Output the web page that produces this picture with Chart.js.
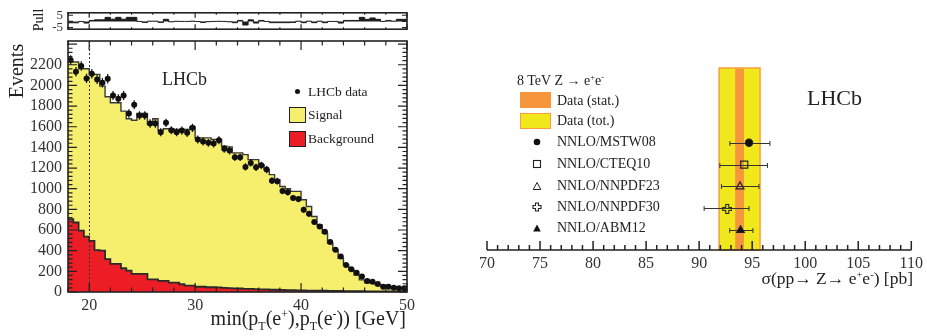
<!DOCTYPE html>
<html>
<head>
<meta charset="utf-8">
<title>LHCb Z to ee</title>
<script src="https://cdn.jsdelivr.net/npm/chart.js@4.4.1/dist/chart.umd.min.js"></script>
<style>
  body { margin: 0; background: #fff; }
  #wrap { position: relative; width: 927px; height: 336px; overflow: hidden;
          font-family: "Liberation Serif", "Times New Roman", serif; color: #222; }
  canvas { position: absolute; top: 0; }
  .txt { position: absolute; white-space: nowrap; line-height: 1; transform: translateY(-50%); }
  .rot { transform: translate(-50%, -50%) rotate(-90deg); }
  .box { position: absolute; box-sizing: border-box; }
  .sym { position: absolute; }
  .lo { font-size: 60%; vertical-align: -0.4em; line-height: 0; }
  .hi { font-size: 60%; vertical-align: 0.55em; line-height: 0; }
</style>
</head>
<body>
<div id="wrap">
  <canvas id="mainChart" width="420" height="336" style="left:0"></canvas>
  <canvas id="pullChart" width="420" height="42" style="left:0"></canvas>
  <canvas id="xsecChart" width="457" height="336" style="left:470px"></canvas>

  <!-- left panel texts -->
  <div class="txt rot" style="left:16px;top:71px;font-size:20px">Events</div>
  <div class="txt rot" style="left:39px;top:20px;font-size:14px">Pull</div>
  <div class="txt" style="left:162px;top:79px;font-size:18px">LHCb</div>
  <div class="box" style="left:294.8px;top:89.2px;width:5px;height:5px;border-radius:50%;background:#111"></div>
  <div class="txt" style="left:308px;top:91.7px;font-size:13.5px">LHCb data</div>
  <div class="box" style="left:288.5px;top:106.5px;width:17px;height:16.5px;background:#F6EF6D;border:1px solid #222"></div>
  <div class="txt" style="left:308px;top:114.5px;font-size:13.5px">Signal</div>
  <div class="box" style="left:288.5px;top:130.5px;width:17px;height:16.5px;background:#EC1D25;border:1px solid #222"></div>
  <div class="txt" style="left:308px;top:139px;font-size:13.5px">Background</div>
  <div class="txt" style="right:521px;top:318px;font-size:20px">min(p<span class="lo">T</span>(e<span class="hi">+</span>),p<span class="lo">T</span>(e<span class="hi">-</span>)) [GeV]</div>

  <!-- right panel texts -->
  <div class="txt" style="left:517px;top:80.5px;font-size:14px">8 TeV Z &rarr; e<span class="hi">+</span>e<span class="hi">-</span></div>
  <div class="box" style="left:520px;top:92.3px;width:31px;height:16px;background:#F5963C"></div>
  <div class="txt" style="left:557px;top:100.5px;font-size:14px">Data (stat.)</div>
  <div class="box" style="left:520px;top:113px;width:31px;height:16px;background:#F0E81C;border:1.5px solid #F5A03A"></div>
  <div class="txt" style="left:557px;top:121px;font-size:14px">Data (tot.)</div>
  <svg class="sym" style="left:531.7px;top:137.3px" width="10" height="10"><circle cx="5" cy="5" r="3.3" fill="#111"/></svg>
  <div class="txt" style="left:557px;top:142.3px;font-size:14px">NNLO/MSTW08</div>
  <svg class="sym" style="left:531.7px;top:159.3px" width="10" height="10"><rect x="1.5" y="1.5" width="7" height="7" fill="none" stroke="#222" stroke-width="1.1"/></svg>
  <div class="txt" style="left:557px;top:164.3px;font-size:14px">NNLO/CTEQ10</div>
  <svg class="sym" style="left:531.7px;top:181px" width="10" height="10"><polygon points="5,1.5 8.8,8.5 1.2,8.5" fill="none" stroke="#222" stroke-width="1"/></svg>
  <div class="txt" style="left:557px;top:186px;font-size:14px">NNLO/NNPDF23</div>
  <svg class="sym" style="left:531.7px;top:201.7px" width="10" height="10"><polygon points="3.5,1 6.5,1 6.5,3.5 9,3.5 9,6.5 6.5,6.5 6.5,9 3.5,9 3.5,6.5 1,6.5 1,3.5 3.5,3.5" fill="none" stroke="#222" stroke-width="1.1"/></svg>
  <div class="txt" style="left:557px;top:206.7px;font-size:14px">NNLO/NNPDF30</div>
  <svg class="sym" style="left:531.7px;top:223.3px" width="10" height="10"><polygon points="5,1.5 8.8,8.5 1.2,8.5" fill="#111"/></svg>
  <div class="txt" style="left:557px;top:228.3px;font-size:14px">NNLO/ABM12</div>
  <div class="txt" style="left:807px;top:97.5px;font-size:22px">LHCb</div>
  <div class="txt" style="right:14px;top:279px;font-size:17.5px">&sigma;(pp&rarr; Z&rarr; e<span class="hi">+</span>e<span class="hi">-</span>) [pb]</div>
</div>

<script>
// ---- left panel: min pT distribution, 0.5 GeV bins ----
const binCentres = [18.25, 18.75, 19.25, 19.75, 20.25, 20.75, 21.25, 21.75, 22.25, 22.75,
  23.25, 23.75, 24.25, 24.75, 25.25, 25.75, 26.25, 26.75, 27.25, 27.75,
  28.25, 28.75, 29.25, 29.75, 30.25, 30.75, 31.25, 31.75, 32.25, 32.75,
  33.25, 33.75, 34.25, 34.75, 35.25, 35.75, 36.25, 36.75, 37.25, 37.75,
  38.25, 38.75, 39.25, 39.75, 40.25, 40.75, 41.25, 41.75, 42.25, 42.75,
  43.25, 43.75, 44.25, 44.75, 45.25, 45.75, 46.25, 46.75, 47.25, 47.75,
  48.25, 48.75, 49.25, 49.75];
const binWidth = 0.5;

const dataCounts = [2245, 2133, 2188, 2068, 2114, 2058, 2026, 2065, 1903, 1871,
  1903, 1728, 1813, 1709, 1709, 1631, 1631, 1547, 1638, 1566,
  1547, 1563, 1541, 1589, 1476, 1457, 1444, 1437, 1469, 1386,
  1369, 1304, 1304, 1211, 1250, 1207, 1227, 1185, 1078, 1073,
  978, 966, 910, 900, 796, 757, 677, 634, 583, 483,
  408, 343, 262, 220, 187, 149, 107, 100, 78, 51,
  51, 42, 36, 36];

const signalCounts = [1521, 1554, 1567, 1625, 1612, 1702, 1593, 1572, 1560, 1560,
  1521, 1470, 1488, 1553, 1553, 1499, 1554, 1459, 1473, 1490,
  1483, 1498, 1512, 1538, 1441, 1441, 1446, 1430, 1432, 1371,
  1367, 1312, 1313, 1300, 1252, 1254, 1207, 1160, 1114, 1066,
  1002, 982, 956, 958, 878, 814, 718, 638, 558, 462,
  398, 317, 253, 205, 157, 109, 83, 83, 62, 62,
  46, 46, 35, 30];

const backgroundCounts = [706, 673, 595, 537, 495, 405, 400, 318, 272, 272,
  230, 207, 175, 175, 175, 123, 123, 107, 107, 90,
  90, 75, 61, 61, 51, 51, 46, 46, 44, 40,
  38, 35, 34, 30, 30, 28, 26, 25, 22, 22,
  20, 18, 18, 16, 15, 14, 13, 12, 12, 11,
  10, 10, 9, 9, 8, 8, 7, 7, 6, 6,
  5, 5, 5, 5];

const pullValues = [-1.1, -1.1, 0.0, -1.3, 0.8, 1.3, 1.3, 3.3, 1.8, 3.3,
  1.8, 3.3, 3.3, 0.0, -0.8, 0.2, 0.2, -0.8, 1.7, -0.3,
  0.1, 0.0, 0.0, 0.2, -0.1, -0.8, -0.2, 0.0, 0.1, 0.0,
  -0.3, -1.0, 0.8, -2.9, 1.3, -1.3, 0.8, 0.0, -1.0, -1.0,
  -1.0, -1.0, -0.8, 0.2, -1.0, 0.2, -1.0, 0.2, -1.0, 0.0,
  0.0, -1.3, 0.8, 0.8, 0.8, 3.3, 1.7, 2.8, 1.7, 0.0,
  0.8, 0.2, 1.7, 1.7];

const xLabelTicks = [20, 30, 40, 50];
const yLabelTicks = [0, 200, 400, 600, 800, 1000, 1200, 1400, 1600, 1800, 2000, 2200];
const pullLabelTicks = [-5, 0, 5];
const cutValue = 20;

// ---- right panel: cross-section comparison ----
const predictionLabels = ['NNLO/MSTW08', 'NNLO/CTEQ10', 'NNLO/NNPDF23', 'NNLO/NNPDF30', 'NNLO/ABM12'];
const predictionValues = [94.7, 94.25, 93.85, 92.6, 93.9];
const predictionErrLow = [1.8, 2.3, 1.75, 2.13, 1.02];
const predictionErrHigh = [1.97, 2.19, 1.79, 2.1, 1.17];
const measuredValue = 93.81;
const statError = 0.41;
const totalError = 1.93;
const xsecLabelTicks = [70, 75, 80, 85, 90, 95, 100, 105, 110];

Chart.defaults.font.family = '"Liberation Serif", "Times New Roman", serif';
Chart.defaults.color = '#333';

function range(a, b, step) {
  const out = [];
  for (let i = 0; a + i * step <= b + 1e-9; i++) out.push(+(a + i * step).toFixed(6));
  return out;
}

// histogram outline: one point per left bin edge plus the last right edge
function stepPoints(values) {
  const pts = binCentres.map((c, i) => ({ x: c - binWidth / 2, y: values[i] }));
  pts.push({ x: binCentres[binCentres.length - 1] + binWidth / 2, y: values[values.length - 1] });
  return pts;
}

const totalCounts = signalCounts.map((s, i) => s + backgroundCounts[i]);

// frame with inward ticks on all four sides (ROOT style)
const frameTicks = {
  id: 'frameTicks',
  afterDraw(chart, args, o) {
    const { ctx, chartArea: a, scales: { x, y } } = chart;
    ctx.save();
    ctx.strokeStyle = '#222';
    ctx.lineWidth = 1.2;
    ctx.beginPath();
    const tickX = (v, len) => {
      const px = x.getPixelForValue(v);
      ctx.moveTo(px, a.bottom); ctx.lineTo(px, a.bottom - len);
      ctx.moveTo(px, a.top); ctx.lineTo(px, a.top + len);
    };
    const tickY = (v, len) => {
      const py = y.getPixelForValue(v);
      ctx.moveTo(a.left, py); ctx.lineTo(a.left + len, py);
      ctx.moveTo(a.right, py); ctx.lineTo(a.right - len, py);
    };
    o.xMinor.forEach(v => tickX(v, o.minorLen));
    o.xMajor.forEach(v => tickX(v, o.majorLen));
    o.yMinor.forEach(v => tickY(v, o.minorLen));
    o.yMajor.forEach(v => tickY(v, o.majorLen));
    ctx.stroke();
    ctx.lineWidth = 1.6;
    ctx.strokeRect(a.left, a.top, a.right - a.left, a.bottom - a.top);
    ctx.restore();
  }
};

// error bars on data points and the dotted cut line
const dataExtras = {
  id: 'dataExtras',
  afterDatasetsDraw(chart) {
    const { ctx, chartArea: a, scales: { x, y } } = chart;
    ctx.save();
    ctx.strokeStyle = '#111';
    ctx.lineWidth = 1.2;
    ctx.beginPath();
    binCentres.forEach((c, i) => {
      const px = x.getPixelForValue(c);
      const err = Math.sqrt(dataCounts[i]);
      ctx.moveTo(px, y.getPixelForValue(dataCounts[i] - err));
      ctx.lineTo(px, y.getPixelForValue(dataCounts[i] + err));
    });
    ctx.stroke();
    ctx.setLineDash([2, 2]);
    ctx.strokeStyle = '#333';
    ctx.lineWidth = 1;
    ctx.beginPath();
    const cx = Math.round(x.getPixelForValue(cutValue)) + 0.5;
    ctx.moveTo(cx, a.top); ctx.lineTo(cx, a.bottom);
    ctx.stroke();
    ctx.restore();
  }
};

const noGrid = { display: false, drawTicks: false };

new Chart(document.getElementById('mainChart'), {
  type: 'line',
  data: {
    datasets: [
      {
        label: 'LHCb data',
        data: binCentres.map((c, i) => ({ x: c, y: dataCounts[i] })),
        showLine: false,
        pointRadius: 3,
        pointBackgroundColor: '#111',
        pointBorderWidth: 0
      },
      {
        label: 'Background',
        data: stepPoints(backgroundCounts),
        stepped: true,
        fill: 'origin',
        backgroundColor: '#EC1D25',
        borderColor: '#2a2a2a',
        borderWidth: 1.8,
        pointRadius: 0
      },
      {
        label: 'Signal',
        data: stepPoints(totalCounts),
        stepped: true,
        fill: 'origin',
        backgroundColor: '#F6EF6D',
        borderColor: '#3a3a3a',
        borderWidth: 1.4,
        pointRadius: 0
      }
    ]
  },
  options: {
    responsive: false,
    animation: false,
    events: [],
    layout: { padding: { top: 41, right: 13, bottom: 14, left: 0 } },
    plugins: {
      legend: { display: false },
      tooltip: { enabled: false },
      frameTicks: {
        xMajor: xLabelTicks, xMinor: range(18, 50, 2),
        yMajor: range(0, 2400, 200), yMinor: range(0, 2400, 40),
        majorLen: 9, minorLen: 4.5
      }
    },
    scales: {
      x: {
        type: 'linear', min: 18, max: 50,
        grid: noGrid, border: { display: false },
        afterFit: s => { s.height = 30; },
        afterBuildTicks: s => { s.ticks = xLabelTicks.map(v => ({ value: v })); },
        ticks: { padding: 4, font: { size: 16 }, autoSkip: false, maxRotation: 0, callback: v => String(v) }
      },
      y: {
        min: 0, max: 2430,
        grid: noGrid, border: { display: false },
        afterFit: s => { s.width = 68; },
        afterBuildTicks: s => { s.ticks = yLabelTicks.map(v => ({ value: v })); },
        ticks: { padding: 6, font: { size: 16 }, callback: v => String(v) }
      }
    }
  },
  plugins: [frameTicks, dataExtras]
});

new Chart(document.getElementById('pullChart'), {
  type: 'line',
  data: {
    datasets: [{
      label: 'Pull',
      data: stepPoints(pullValues),
      stepped: true,
      fill: 'origin',
      backgroundColor: '#1c1c1c',
      borderColor: '#1c1c1c',
      borderWidth: 1,
      pointRadius: 0
    }]
  },
  options: {
    responsive: false,
    animation: false,
    events: [],
    layout: { padding: { top: 8, right: 13, bottom: 1, left: 0 } },
    plugins: {
      legend: { display: false },
      tooltip: { enabled: false },
      frameTicks: {
        xMajor: xLabelTicks, xMinor: range(18, 50, 2),
        yMajor: pullLabelTicks, yMinor: [],
        majorLen: 5, minorLen: 2
      }
    },
    scales: {
      x: { type: 'linear', min: 18, max: 50, display: false },
      y: {
        min: -6.3, max: 7,
        grid: noGrid, border: { display: false },
        afterFit: s => { s.width = 68; },
        afterBuildTicks: s => { s.ticks = pullLabelTicks.map(v => ({ value: v })); },
        ticks: { padding: 5, font: { size: 13 }, callback: v => String(v) }
      }
    }
  },
  plugins: [frameTicks]
});

// open cross marker for NNPDF30
function openCross() {
  const c = document.createElement('canvas');
  c.width = 11; c.height = 11;
  const g = c.getContext('2d');
  g.strokeStyle = '#222';
  g.lineWidth = 1.1;
  const p = [[4, 1], [7, 1], [7, 4], [10, 4], [10, 7], [7, 7], [7, 10], [4, 10], [4, 7], [1, 7], [1, 4], [4, 4]];
  g.beginPath();
  p.forEach(([px, py], i) => i ? g.lineTo(px + 0.5, py + 0.5) : g.moveTo(px + 0.5, py + 0.5));
  g.closePath();
  g.stroke();
  return c;
}

const xsecDecor = {
  id: 'xsecDecor',
  beforeDatasetsDraw(chart) {
    const { ctx, chartArea: a, scales: { x, y } } = chart;
    ctx.save();
    const tl = x.getPixelForValue(measuredValue - totalError);
    const tr = x.getPixelForValue(measuredValue + totalError);
    ctx.fillStyle = '#F0E81C';
    ctx.fillRect(tl, a.top, tr - tl, a.bottom - a.top);
    ctx.strokeStyle = '#F5A03A';
    ctx.lineWidth = 1.5;
    ctx.strokeRect(tl, a.top, tr - tl, a.bottom - a.top);
    const sl = x.getPixelForValue(measuredValue - statError);
    const sr = x.getPixelForValue(measuredValue + statError);
    ctx.fillStyle = '#F5963C';
    ctx.fillRect(sl, a.top + 0.75, sr - sl, a.bottom - a.top - 0.75);

    ctx.strokeStyle = '#333';
    ctx.lineWidth = 1;
    ctx.beginPath();
    predictionValues.forEach((v, i) => {
      const py = Math.round(y.getPixelForValue(i)) + 0.5;
      const l = x.getPixelForValue(v - predictionErrLow[i]);
      const r = x.getPixelForValue(v + predictionErrHigh[i]);
      ctx.moveTo(l, py); ctx.lineTo(r, py);
      ctx.moveTo(l, py - 2.5); ctx.lineTo(l, py + 2.5);
      ctx.moveTo(r, py - 2.5); ctx.lineTo(r, py + 2.5);
    });
    ctx.stroke();
    ctx.restore();
  },
  afterDraw(chart) {
    const { ctx, chartArea: a, scales: { x } } = chart;
    ctx.save();
    ctx.strokeStyle = '#222';
    ctx.lineWidth = 1.5;
    ctx.beginPath();
    ctx.moveTo(a.left, a.bottom); ctx.lineTo(a.right, a.bottom);
    range(70, 110, 1).forEach(v => {
      const px = x.getPixelForValue(v);
      const len = v % 5 === 0 ? 9 : 5;
      ctx.moveTo(px, a.bottom); ctx.lineTo(px, a.bottom - len);
    });
    ctx.stroke();
    ctx.restore();
  }
};

new Chart(document.getElementById('xsecChart'), {
  type: 'scatter',
  data: {
    datasets: [{
      label: 'NNLO predictions',
      data: predictionValues.map((v, i) => ({ x: v, y: i })),
      pointStyle: ['circle', 'rect', 'triangle', openCross(), 'triangle'],
      pointRadius: [3.6, 5, 4.6, 5, 4.4],
      pointBackgroundColor: ['#111', 'rgba(0,0,0,0)', 'rgba(0,0,0,0)', 'rgba(0,0,0,0)', '#111'],
      pointBorderColor: '#222',
      pointBorderWidth: 1.2
    }]
  },
  options: {
    responsive: false,
    animation: false,
    events: [],
    layout: { padding: { top: 68, left: 17, right: 14, bottom: 56 } },
    plugins: { legend: { display: false }, tooltip: { enabled: false } },
    scales: {
      x: {
        type: 'linear', min: 70, max: 110,
        grid: noGrid, border: { display: false },
        afterFit: s => { s.height = 30; },
        afterBuildTicks: s => { s.ticks = xsecLabelTicks.map(v => ({ value: v })); },
        ticks: { padding: 4, font: { size: 16 }, autoSkip: false, maxRotation: 0, callback: v => String(v) }
      },
      y: { display: false, min: -3.41, max: 4.9, reverse: true }
    }
  },
  plugins: [xsecDecor]
});
</script>
</body>
</html>
